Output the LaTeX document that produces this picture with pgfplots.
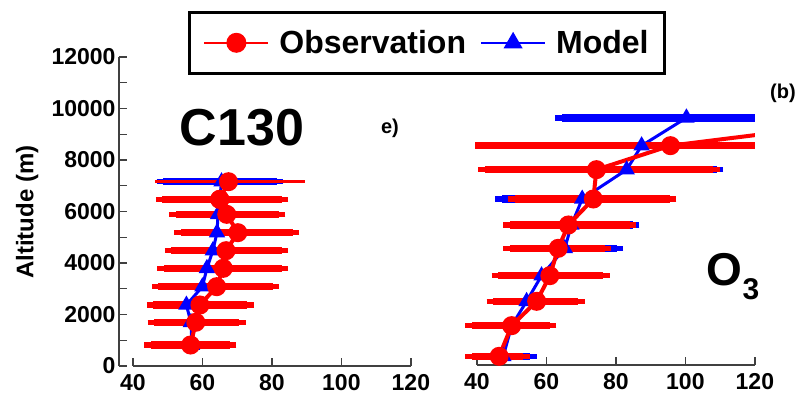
\documentclass[border=0pt]{standalone}
\usepackage{pgfplots}
\pgfplotsset{compat=1.18}
\usepackage{pgfplotstable}
\usepackage{fontspec}
\setmainfont{Liberation Sans}

% altitude (m), mean, low end, high end of the bar
\pgfplotstableread{
alt m lo hi
815 56.6 45.1 67.9
1697 58.1 46.1 70.6
2369 59.3 45.9 72.9
3080 64.1 47.3 80.2
3793 66.0 48.9 82.8
4478 66.8 51.1 82.8
5177 70.2 53.8 86.0
5890 67.0 52.4 82.0
6472 65.0 48.5 82.8
}\obsL
\pgfplotstableread{
alt m lo hi
7157 67.5 46.3 89.5
}\obsLtop
\pgfplotstableread{
alt m lo hi
815 57.0 47.8 64.1
1697 56.7 49.2 64.5
2369 55.4 48.3 63.1
3080 60.0 51.1 69.8
3793 61.3 53.5 69.4
4478 63.0 55.4 72.7
5177 64.2 55.9 74.2
5890 64.5 54.4 77.0
6472 65.0 50.0 78.9
7157 65.5 48.7 81.4
}\modL
\pgfplotstableread{
alt m lo hi
337 46.4 38.5 53.3
1528 50.0 38.5 61.0
2473 57.2 44.7 69.2
3469 61.0 46.1 76.3
4531 63.4 49.5 76.8
5437 66.3 49.5 84.0
6447 73.5 50.9 95.5
7586 74.4 42.3 108.0
}\obsR
\pgfplotstableread{
alt m lo hi
8518 95.7 39.4 125.0
}\obsRtop
\pgfplotstableread{
alt m lo hi
337 47.6 41.4 55.3
1528 50.0 41.8 57.3
2473 54.3 46.1 63.4
3469 58.6 47.6 68.7
4531 65.3 50.9 80.2
5437 67.2 50.9 84.9
6447 70.3 47.1 93.1
7586 83.1 59.0 109.0
8518 87.4 59.0 115.0
9600 100.3 64.4 125.0
}\modR

\pgfplotsset{
  panel/.style={
    scale only axis, width=291.9pt, height=309pt,
    xmin=36, xmax=120, ymin=0, ymax=12000,
    axis x line*=bottom,
    axis line style={-, black!75, line width=1.3pt},
    x axis line style={shorten <=13.9pt},
    xtick={40,60,...,120},
    tick align=inside,
    tick style={black!75, line width=1.3pt},
    major tick length=8pt, minor tick length=8pt,
    ticklabel style={font=\fontsize{23}{23}\selectfont\bfseries},
    xticklabel style={yshift=-5pt},
    /pgf/number format/.cd, 1000 sep={}, assume math mode=true,
  },
  bars/.style={draw=none, mark=none, forget plot,
    error bars/.cd, x dir=both, x explicit,
    error bar style={line width=7.5pt, draw=#1, solid},
    error mark=-,
    error mark options={line width=5.5pt, mark size=6.5pt, draw=#1}},
  obs/.style={red, line width=4pt, mark=*, mark size=7.5pt, mark options={solid, fill=red}},
  mod/.style={blue, line width=3pt, mark=triangle*, mark size=6.5pt, mark options={solid, fill=blue}},
}

\begin{document}
\begin{tikzpicture}
\useasboundingbox (0,0) rectangle (807pt,404pt);

\begin{axis}[panel, at={(119pt,38pt)}, anchor=south west,
    axis y line*=left,
    ytick={0,2000,...,12000}, minor ytick={1000,3000,...,11000},
    scaled y ticks=false,
    ylabel={Altitude (m)},
    ylabel style={font=\fontsize{24}{24}\selectfont\bfseries, at={(axis description cs:-0.315,0.498)}, anchor=center},
    legend columns=2,
    legend image code/.code={\draw[mark repeat=2, mark phase=2, #1] plot coordinates {(0pt,0pt) (32pt,0pt) (64pt,0pt)};},
    legend image post style={line width=2pt, mark size=9pt},
    legend style={at={(axis description cs:0.236,1.149)}, anchor=north west,
      draw=black, line width=3pt, inner xsep=14pt, inner ysep=16pt,
      font=\fontsize{32}{32}\selectfont\bfseries,
      /tikz/every odd column/.append style={column sep=8pt},
      /tikz/every even column/.append style={column sep=12pt}},
  ]
  \addplot[bars=blue] table[x=m, y=alt, x error plus expr=\thisrow{hi}-\thisrow{m}, x error minus expr=\thisrow{m}-\thisrow{lo}] {\modL};
  \addplot[bars=red] table[x=m, y=alt, x error plus expr=\thisrow{hi}-\thisrow{m}, x error minus expr=\thisrow{m}-\thisrow{lo}] {\obsL};
  \addplot[draw=none, mark=none, forget plot, error bars/.cd, x dir=both, x explicit,
    error bar style={line width=3pt, draw=red, solid}, error mark=none]
    table[x=m, y=alt, x error plus expr=\thisrow{hi}-\thisrow{m}, x error minus expr=\thisrow{m}-\thisrow{lo}] {\obsLtop};
  \addplot[mod, forget plot] table[x=m, y=alt] {\modL};
  \addplot[obs] table[x=m, y=alt] {\obsL};
  \addplot[obs, forget plot] coordinates {(65.0,6472) (67.5,7157)};
  \addlegendimage{mod}
  \legend{Observation, Model}
\end{axis}

\begin{axis}[panel, at={(463pt,39pt)}, anchor=south west,
    axis y line=none, ytick=\empty]
  \addplot[bars=blue] table[x=m, y=alt, x error plus expr=\thisrow{hi}-\thisrow{m}, x error minus expr=\thisrow{m}-\thisrow{lo}] {\modR};
  \addplot[mod] table[x=m, y=alt] {\modR};
  \addplot[bars=red] table[x=m, y=alt, x error plus expr=\thisrow{hi}-\thisrow{m}, x error minus expr=\thisrow{m}-\thisrow{lo}] {\obsR};
  \addplot[draw=none, mark=none, forget plot, error bars/.cd, x dir=both, x explicit,
    error bar style={line width=7.5pt, draw=red, solid}, error mark=none]
    table[x=m, y=alt, x error plus expr=\thisrow{hi}-\thisrow{m}, x error minus expr=\thisrow{m}-\thisrow{lo}] {\obsRtop};
  \addplot[obs, mark=none] coordinates {(74.4,7586) (95.7,8518) (160,9600)};
  \addplot[obs] table[x=m, y=alt] {\obsR};
  \addplot[obs] coordinates {(95.7,8518)};
\end{axis}

\node[font=\fontsize{52}{52}\selectfont\bfseries] at (242pt,276pt) {C130};
\node[font=\fontsize{20}{20}\selectfont\bfseries] at (390pt,276pt) {e)};
\node[font=\fontsize{20}{20}\selectfont\bfseries] at (783pt,311pt) {(b)};
\node[font=\fontsize{46}{46}\selectfont\bfseries] at (733pt,127pt) {O\raisebox{-0.3em}{\fontsize{30}{30}\selectfont 3}};
\end{tikzpicture}
\end{document}
